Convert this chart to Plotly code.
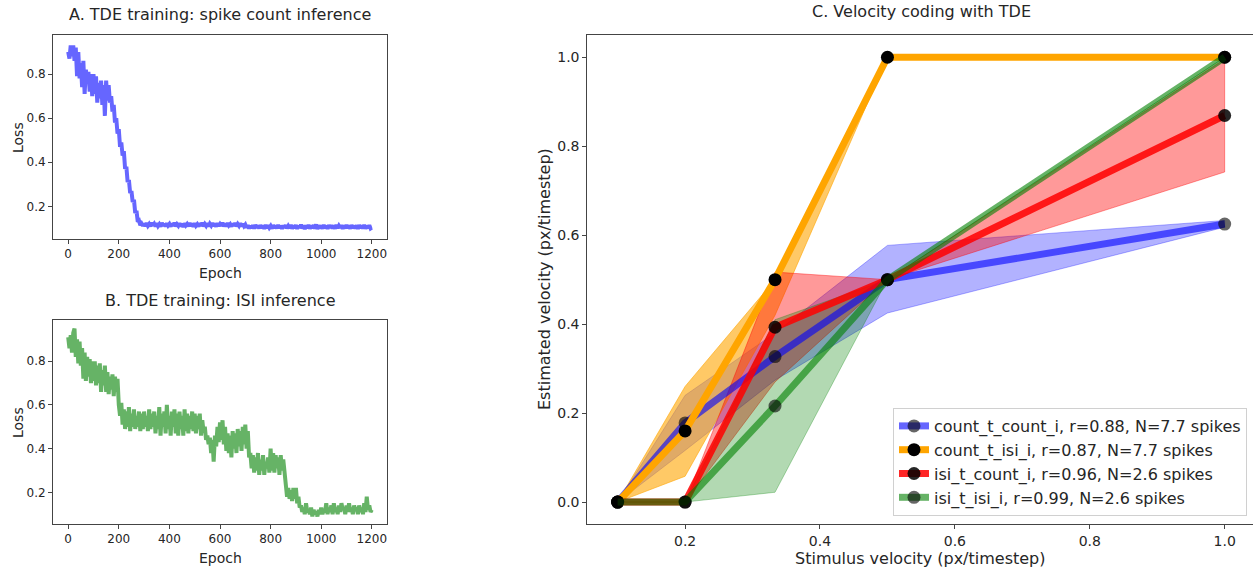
import plotly.graph_objects as go

W, H = 1253, 573
FONT = "DejaVu Sans"
TXT = "#262626"
AX = "#444444"

# ---------------- Panel A / B data (loss every 5 epochs)
epochs = list(range(0, 1201, 5))
loss_count = [
    0.90, 0.87, 0.93, 0.88, 0.93, 0.86, 0.92, 0.79, 0.90, 0.78,
    0.85, 0.74, 0.86, 0.71, 0.82, 0.76, 0.81, 0.72, 0.80, 0.70,
    0.80, 0.71, 0.79, 0.67, 0.76, 0.69, 0.77, 0.66, 0.75, 0.61,
    0.77, 0.68, 0.75, 0.67, 0.70, 0.63, 0.66, 0.58, 0.60, 0.53,
    0.55, 0.47, 0.49, 0.43, 0.45, 0.37, 0.38, 0.31, 0.32, 0.26,
    0.27, 0.22, 0.23, 0.17, 0.18, 0.13, 0.135, 0.115, 0.122, 0.112,
    0.122, 0.110, 0.124, 0.112, 0.120, 0.109, 0.126, 0.113, 0.121, 0.110,
    0.123, 0.111, 0.119, 0.108, 0.125, 0.112, 0.121, 0.109, 0.124, 0.113,
    0.120, 0.108, 0.123, 0.111, 0.126, 0.110, 0.119, 0.112, 0.124, 0.109,
    0.121, 0.107, 0.123, 0.113, 0.120, 0.110, 0.125, 0.111, 0.122, 0.108,
    0.124, 0.112, 0.119, 0.109, 0.123, 0.111, 0.126, 0.110, 0.120, 0.112,
    0.124, 0.109, 0.121, 0.113, 0.125, 0.110, 0.122, 0.108, 0.123, 0.111,
    0.120, 0.112, 0.126, 0.109, 0.121, 0.110, 0.124, 0.113, 0.119, 0.108,
    0.123, 0.111, 0.125, 0.110, 0.120, 0.112, 0.124, 0.109, 0.121, 0.110,
    0.117, 0.104, 0.115, 0.100, 0.112, 0.102, 0.114, 0.099, 0.116, 0.103,
    0.113, 0.100, 0.115, 0.102, 0.112, 0.098, 0.116, 0.101, 0.114, 0.103,
    0.111, 0.099, 0.115, 0.102, 0.113, 0.100, 0.116, 0.101, 0.112, 0.098,
    0.114, 0.103, 0.115, 0.100, 0.111, 0.102, 0.116, 0.099, 0.113, 0.101,
    0.115, 0.098, 0.112, 0.103, 0.117, 0.100, 0.114, 0.097, 0.113, 0.102,
    0.116, 0.099, 0.112, 0.101, 0.115, 0.100, 0.118, 0.097, 0.114, 0.102,
    0.113, 0.099, 0.116, 0.101, 0.112, 0.098, 0.115, 0.102, 0.114, 0.100,
    0.113, 0.099, 0.116, 0.101, 0.112, 0.103, 0.115, 0.098, 0.114, 0.100,
    0.116, 0.101, 0.113, 0.099, 0.115, 0.102, 0.112, 0.100, 0.114, 0.098,
    0.115, 0.101, 0.113, 0.100, 0.116, 0.099, 0.112, 0.102, 0.114, 0.100,
    0.104,
]
loss_isi = [
    0.91, 0.86, 0.92, 0.84, 0.93, 0.95, 0.82, 0.90, 0.79, 0.89,
    0.78, 0.86, 0.72, 0.84, 0.71, 0.82, 0.73, 0.81, 0.70, 0.80,
    0.71, 0.80, 0.69, 0.78, 0.70, 0.79, 0.66, 0.76, 0.69, 0.78,
    0.66, 0.75, 0.65, 0.73, 0.67, 0.74, 0.64, 0.73, 0.66, 0.72,
    0.60, 0.55, 0.61, 0.51, 0.58, 0.49, 0.57, 0.50, 0.59, 0.48,
    0.56, 0.50, 0.58, 0.49, 0.55, 0.50, 0.57, 0.48, 0.56, 0.49,
    0.57, 0.50, 0.55, 0.48, 0.58, 0.49, 0.56, 0.50, 0.57, 0.47,
    0.55, 0.49, 0.59, 0.46, 0.56, 0.50, 0.57, 0.47, 0.60, 0.49,
    0.55, 0.46, 0.57, 0.50, 0.58, 0.47, 0.56, 0.46, 0.57, 0.49,
    0.55, 0.46, 0.58, 0.48, 0.56, 0.47, 0.55, 0.49, 0.57, 0.48,
    0.56, 0.47, 0.55, 0.49, 0.56, 0.46, 0.53, 0.48, 0.50, 0.44,
    0.46, 0.42, 0.45, 0.38, 0.44, 0.34, 0.46, 0.41, 0.50, 0.43,
    0.52, 0.44, 0.53, 0.42, 0.50, 0.39, 0.47, 0.38, 0.46, 0.36,
    0.48, 0.40, 0.47, 0.38, 0.49, 0.41, 0.48, 0.39, 0.50, 0.42,
    0.51, 0.40, 0.48, 0.36, 0.38, 0.31, 0.37, 0.29, 0.36, 0.30,
    0.38, 0.28, 0.35, 0.30, 0.37, 0.28, 0.34, 0.31, 0.36, 0.29,
    0.40, 0.30, 0.38, 0.29, 0.37, 0.31, 0.36, 0.28, 0.37, 0.30,
    0.35, 0.29, 0.24, 0.18, 0.22, 0.17, 0.21, 0.16, 0.22, 0.17,
    0.22, 0.15, 0.18, 0.13, 0.14, 0.11, 0.13, 0.10, 0.15, 0.11,
    0.12, 0.10, 0.13, 0.09, 0.12, 0.10, 0.11, 0.09, 0.12, 0.10,
    0.13, 0.10, 0.12, 0.11, 0.15, 0.10, 0.13, 0.11, 0.14, 0.10,
    0.15, 0.11, 0.13, 0.10, 0.14, 0.11, 0.15, 0.12, 0.13, 0.10,
    0.14, 0.11, 0.15, 0.11, 0.13, 0.10, 0.14, 0.12, 0.13, 0.10,
    0.14, 0.11, 0.13, 0.10, 0.15, 0.11, 0.18, 0.12, 0.14, 0.11,
    0.12,
]

# ---------------- Panel C data
stim_vel = [0.1, 0.2, 1 / 3, 0.5, 1.0]
series_names = [
    "count_t_count_i, r=0.88, N=7.7 spikes",
    "count_t_isi_i, r=0.87, N=7.7 spikes",
    "isi_t_count_i, r=0.96, N=2.6 spikes",
    "isi_t_isi_i, r=0.99, N=2.6 spikes",
]
est_count_count = [0.0, 0.178, 0.327, 0.5, 0.625]
est_count_isi = [0.0, 0.16, 0.5, 1.0, 1.0]
est_isi_count = [0.0, 0.0, 0.393, 0.5, 0.869]
est_isi_isi = [0.0, 0.0, 0.216, 0.5, 1.0]
lo_count_count = [0.0, 0.116, 0.274, 0.425, 0.618]
hi_count_count = [0.0, 0.24, 0.38, 0.577, 0.633]
lo_count_isi = [0.0, 0.058, 0.42, 1.0, 1.0]
hi_count_isi = [0.0, 0.26, 0.5, 1.0, 1.0]
lo_isi_count = [0.0, 0.0, 0.27, 0.5, 0.742]
hi_isi_count = [0.0, 0.0, 0.517, 0.5, 0.996]
lo_isi_isi = [0.0, 0.0, 0.022, 0.5, 1.0]
hi_isi_isi = [0.0, 0.0, 0.41, 0.5, 1.0]

means = [est_count_count, est_count_isi, est_isi_count, est_isi_isi]
los = [lo_count_count, lo_count_isi, lo_isi_count, lo_isi_isi]
his = [hi_count_count, hi_count_isi, hi_isi_count, hi_isi_isi]
rgb = [(0, 0, 255), (255, 165, 0), (255, 0, 0), (0, 128, 0)]
line_alpha = [0.6, 1.0, 0.85, 0.6]
fill_alpha = [0.3, 0.6, 0.4, 0.3]


def rgba(c, a):
    return f"rgba({c[0]},{c[1]},{c[2]},{a})"


fig = go.Figure()

fig.add_trace(go.Scatter(x=epochs, y=loss_count, mode="lines",
                         line=dict(color=rgba((0, 0, 255), 0.6), width=4),
                         xaxis="x", yaxis="y", showlegend=False))
fig.add_trace(go.Scatter(x=epochs, y=loss_isi, mode="lines",
                         line=dict(color=rgba((0, 128, 0), 0.6), width=4),
                         xaxis="x2", yaxis="y2", showlegend=False))

# shaded bands first (below every line, as in matplotlib's z-order)
for lo, hi, c, fa in zip(los, his, rgb, fill_alpha):
    fig.add_trace(go.Scatter(
        x=stim_vel + stim_vel[::-1], y=hi + lo[::-1], mode="lines",
        fill="toself", fillcolor=rgba(c, fa), line=dict(color=rgba(c, fa), width=1),
        xaxis="x3", yaxis="y3", showlegend=False, hoverinfo="skip"))

for name, m, c, la in zip(series_names, means, rgb, line_alpha):
    fig.add_trace(go.Scatter(
        x=stim_vel, y=m, mode="lines+markers", name=name,
        line=dict(color=rgba(c, la), width=7),
        marker=dict(color=rgba((0, 0, 0), la), size=13, line=dict(width=0)),
        xaxis="x3", yaxis="y3"))


def px_x(p):
    return p / W


def px_y(p):
    return 1 - p / H


common = dict(showline=True, linecolor=AX, linewidth=1, mirror=True, ticks="outside",
              ticklen=4, tickcolor=AX, showgrid=False, zeroline=False,
              tickfont=dict(family=FONT, size=12, color=TXT))
big_ticks = dict(family=FONT, size=14, color=TXT)

fig.update_layout(
    width=W, height=H, margin=dict(l=0, r=0, t=0, b=0, pad=0),
    paper_bgcolor="white", plot_bgcolor="white",
    font=dict(family=FONT, color=TXT),
    xaxis=dict(domain=[px_x(53), px_x(387)], range=[-60, 1260], tickvals=[0, 200, 400, 600, 800, 1000, 1200],
               anchor="y", **common),
    yaxis=dict(domain=[px_y(239), px_y(35)], range=[0.052, 0.977], tickvals=[0.2, 0.4, 0.6, 0.8],
               tickformat=".1f", anchor="x", **common),
    xaxis2=dict(domain=[px_x(53), px_x(387)], range=[-60, 1260], tickvals=[0, 200, 400, 600, 800, 1000, 1200],
                anchor="y2", **common),
    yaxis2=dict(domain=[px_y(524), px_y(320)], range=[0.055, 0.989], tickvals=[0.2, 0.4, 0.6, 0.8],
                tickformat=".1f", anchor="x2", **common),
    xaxis3=dict(domain=[px_x(587.3), 1.0], range=[0.055, 1.042], tickvals=[0.2, 0.4, 0.6, 0.8, 1.0],
                tickformat=".1f", anchor="y3", **{**common, "tickfont": big_ticks}),
    yaxis3=dict(domain=[px_y(524.3), px_y(35)], range=[-0.05, 1.05], tickvals=[0, 0.2, 0.4, 0.6, 0.8, 1.0],
                tickformat=".1f", anchor="x3", **{**common, "mirror": False, "tickfont": big_ticks}),
    legend=dict(x=px_x(1247), y=px_y(516), xanchor="right", yanchor="bottom",
                bgcolor="rgba(255,255,255,0.8)", bordercolor="#d0d0d0", borderwidth=1,
                font=dict(family=FONT, size=16, color=TXT), tracegroupgap=0),
)

annots = [
    ("A. TDE training: spike count inference", 220, 15, 16, 0),
    ("B. TDE training: ISI inference", 220, 300, 16, 0),
    ("C. Velocity coding with TDE", 921, 11, 16, 0),
    ("Epoch", 220, 273, 14, 0),
    ("Epoch", 220, 558, 14, 0),
    ("Loss", 18, 138, 14, -90),
    ("Loss", 18, 423, 14, -90),
    ("Stimulus velocity (px/timestep)", 920, 558, 16, 0),
    ("Estimated velocity (px/timestep)", 544, 279, 16, -90),
]
for text, x, y, size, ang in annots:
    fig.add_annotation(text=text, x=px_x(x), y=px_y(y), xref="paper", yref="paper",
                       xanchor="center", yanchor="middle", showarrow=False, textangle=ang,
                       font=dict(family=FONT, size=size, color=TXT))

fig.write_html("out.html", config={"displayModeBar": False},
               post_script="document.body.style.margin='0';document.body.style.padding='0';")
